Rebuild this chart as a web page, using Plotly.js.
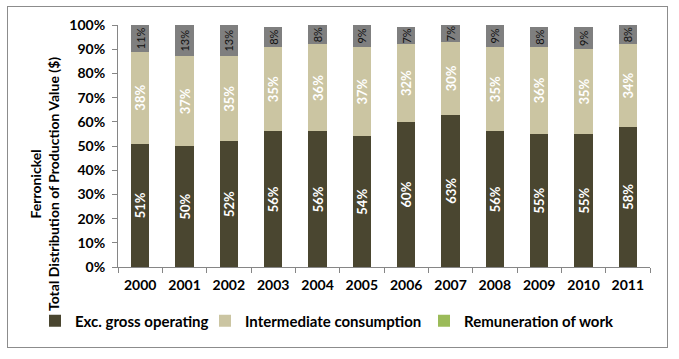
<!DOCTYPE html>
<html><head><meta charset="utf-8">
<script src="https://cdn.plot.ly/plotly-3.0.1.min.js"></script>
<style>html,body{margin:0;padding:0;background:#fff}#frame{position:absolute;left:7px;top:6px;width:661px;height:342px;border:1px solid #8c8c8c;box-sizing:border-box;pointer-events:none;z-index:5}</style>
</head><body>
<div id="chart" style="width:679px;height:359px"></div>
<div id="frame"></div>
<script>
const years = ['2000','2001','2002','2003','2004','2005','2006','2007','2008','2009','2010','2011'];
const excGrossOperating = [51,50,52,56,56,54,60,63,56,55,55,58];
const intermediateConsumption = [38,37,35,35,36,37,32,30,35,36,35,34];
const remunerationOfWork = [11,13,13,8,8,9,7,7,9,8,9,8];
const yTicks = [0,10,20,30,40,50,60,70,80,90,100];

const fnt = 'Lato, "Open Sans", sans-serif';
const pct = arr => arr.map(v => v + '%');
const common = {type:'bar', x: years, textposition:'inside', textangle:-90,
  insidetextanchor:'middle', constraintext:'none', hoverinfo:'skip', cliponaxis:false};

const traces = [
  Object.assign({}, common, {name:'Exc. gross operating', y: excGrossOperating, text: pct(excGrossOperating),
    legend:'legend', marker:{color:'#4a4630'}, textfont:{family:fnt, size:13, color:'#ffffff', weight:'bold'}}),
  Object.assign({}, common, {name:'Intermediate consumption', y: intermediateConsumption, text: pct(intermediateConsumption),
    legend:'legend2', marker:{color:'#cbc5a2'}, textfont:{family:fnt, size:13, color:'#ffffff', weight:'bold'}}),
  Object.assign({}, common, {name:'Remuneration of work', y: remunerationOfWork, text: pct(remunerationOfWork), showlegend:false,
    marker:{color:'#7f7f7f'}, textfont:{family:fnt, size:11, color:'#111111'}}),
  {type:'bar', x: years, y: years.map(()=>0), name:'Remuneration of work', legend:'legend3', marker:{color:'#9bbb59'},
   hoverinfo:'skip', textposition:'none'}
];

const W = 679, PL = 118, PW = 532, PT = 25, PH = 242;
const legBase = {orientation:'h', xref:'container', yref:'container', xanchor:'left', y:0.106, yanchor:'middle',
  font:{family:fnt, size:15, weight:'bold', color:'#000'}, itemwidth:30, bgcolor:'rgba(0,0,0,0)'};
const layout = {
  width:W, height:359, barmode:'stack', bargap:0.59,
  margin:{l:PL, r:W-PL-PW, t:PT, b:359-PT-PH},
  paper_bgcolor:'#ffffff', plot_bgcolor:'#ffffff',
  font:{family:fnt, size:12, color:'#000'},
  showlegend:true,
  legend: Object.assign({}, legBase, {x:(77-42)/W}),
  legend2: Object.assign({}, legBase, {x:(247-42)/W}),
  legend3: Object.assign({}, legBase, {x:(466-42)/W}),
  xaxis:{type:'category', showline:true, linecolor:'#868686', ticks:'outside', tickson:'boundaries',
    ticklen:5, tickcolor:'#868686', tickfont:{family:fnt, size:14, weight:'bold'}, showgrid:false, ticklabelstandoff:5},
  yaxis:{range:[0,100], tickvals:yTicks, ticktext:yTicks.map(v=>v+'%'), showline:true, linecolor:'#868686',
    ticks:'outside', ticklen:5, tickcolor:'#868686', showgrid:false, zeroline:false, ticklabelstandoff:4,
    tickfont:{family:fnt, size:14, weight:'bold'}},
  annotations:[{text:'Ferronickel<br>Total Distribution of Production Value ($)', textangle:-90,
    xref:'paper', yref:'paper', x:(45-PL)/PW, y:(PT+PH-184)/PH, xanchor:'center', yanchor:'middle',
    showarrow:false, font:{family:fnt, size:14, weight:'bold', color:'#000'}}]
};
Plotly.newPlot('chart', traces, layout, {staticPlot:true});
</script>
</body></html>
